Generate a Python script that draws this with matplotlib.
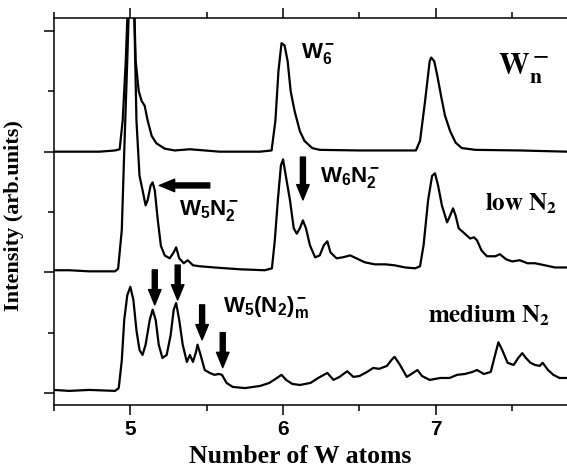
import matplotlib
matplotlib.use('Agg')
import matplotlib.pyplot as plt
import numpy as np

plt.rcParams['mathtext.fontset'] = 'custom'
plt.rcParams['mathtext.bf'] = 'Liberation Sans:bold'
plt.rcParams['mathtext.rm'] = 'Liberation Sans:bold'
plt.rcParams['mathtext.it'] = 'Liberation Sans:bold'

# W_n^- (no N2), intensity above its own baseline
x_top = [4.497, 4.80, 4.90, 4.93, 4.95, 4.97, 5.0, 5.015, 5.035, 5.055, 5.074,
         5.094, 5.113, 5.14, 5.17, 5.225, 5.29, 5.39, 5.585, 5.85, 5.925, 5.95,
         5.97, 5.99, 6.01, 6.03, 6.05, 6.075, 6.11, 6.14, 6.19, 6.24, 6.5, 6.77,
         6.87, 6.897, 6.93, 6.96, 6.97, 6.99, 7.01, 7.035, 7.06, 7.094, 7.13,
         7.17, 7.26, 7.55, 7.86]
i_top = [0.0, 0.0, 0.01, 0.02, 0.26, 0.75, 1.8, 1.7, 0.75, 0.5, 0.42,
         0.38, 0.26, 0.13, 0.07, 0.025, 0.01, 0.02, 0.0, 0.0, 0.01, 0.26,
         0.67, 0.90, 0.88, 0.75, 0.5, 0.34, 0.17, 0.09, 0.03, 0.015, 0.01, 0.01,
         0.01, 0.09, 0.42, 0.75, 0.78, 0.75, 0.63, 0.46, 0.30, 0.17, 0.075,
         0.03, 0.015, 0.01, 0.0]

# low N2
x_low = [4.497, 4.60, 4.73, 4.90, 4.92, 4.944, 4.96, 4.98, 5.0, 5.02, 5.04, 5.06,
         5.08, 5.10, 5.114, 5.133, 5.146, 5.16, 5.18, 5.2, 5.225, 5.258, 5.284,
         5.30, 5.32, 5.35, 5.376, 5.41, 5.454, 5.55, 5.717, 5.88, 5.927, 5.946,
         5.966, 5.986, 6.0, 6.018, 6.045, 6.07, 6.09, 6.11, 6.13, 6.15, 6.176,
         6.21, 6.24, 6.267, 6.29, 6.31, 6.35, 6.39, 6.44, 6.48, 6.535, 6.60,
         6.67, 6.73, 6.80, 6.865, 6.897, 6.92, 6.95, 6.976, 6.995, 7.015, 7.04,
         7.074, 7.094, 7.113, 7.13, 7.15, 7.19, 7.225, 7.25, 7.27, 7.30, 7.335,
         7.39, 7.42, 7.46, 7.5, 7.55, 7.6, 7.65, 7.715, 7.78, 7.86]
i_low = [0.017, 0.017, 0.008, 0.008, 0.03, 0.35, 1.0, 1.76, 2.6, 2.5, 1.26, 0.80,
         0.68, 0.555, 0.6, 0.72, 0.745, 0.68, 0.43, 0.22, 0.14, 0.116, 0.166,
         0.207, 0.116, 0.075, 0.10, 0.058, 0.05, 0.04, 0.025, 0.017, 0.033, 0.265,
         0.6, 0.886, 0.936, 0.80, 0.60, 0.365, 0.32, 0.365, 0.43, 0.365, 0.224,
         0.124, 0.14, 0.224, 0.257, 0.166, 0.116, 0.124, 0.14, 0.116, 0.083, 0.066,
         0.066, 0.058, 0.04, 0.033, 0.05, 0.224, 0.6, 0.80, 0.82, 0.72, 0.555,
         0.414, 0.47, 0.53, 0.47, 0.365, 0.32, 0.28, 0.29, 0.265, 0.18, 0.133,
         0.133, 0.15, 0.108, 0.09, 0.1, 0.075, 0.075, 0.058, 0.04, 0.04]

# medium N2
x_med = [4.497, 4.60, 4.73, 4.90, 4.924, 4.944, 4.96, 4.98, 5.0, 5.02, 5.04, 5.06,
         5.08, 5.10, 5.127, 5.146, 5.166, 5.186, 5.21, 5.238, 5.264, 5.284, 5.30,
         5.32, 5.343, 5.37, 5.39, 5.41, 5.43, 5.44, 5.46, 5.487, 5.52, 5.55, 5.58,
         5.60, 5.63, 5.67, 5.75, 5.85, 5.91, 5.96, 5.99, 6.02, 6.06, 6.11, 6.18,
         6.23, 6.29, 6.33, 6.37, 6.42, 6.46, 6.50, 6.55, 6.59, 6.63, 6.68, 6.71,
         6.73, 6.766, 6.81, 6.84, 6.88, 6.91, 6.96, 7.03, 7.09, 7.14, 7.19, 7.24,
         7.27, 7.315, 7.36, 7.38, 7.41, 7.435, 7.47, 7.51, 7.54, 7.566, 7.59, 7.62,
         7.65, 7.68, 7.70, 7.735, 7.77, 7.81, 7.86]
i_med = [0.025, 0.017, 0.025, 0.017, 0.04, 0.27, 0.605, 0.81, 0.88, 0.77, 0.52, 0.356,
         0.315, 0.40, 0.605, 0.69, 0.605, 0.40, 0.29, 0.315, 0.48, 0.69, 0.746,
         0.605, 0.40, 0.257, 0.315, 0.257, 0.34, 0.40, 0.315, 0.19, 0.166, 0.15, 0.157,
         0.15, 0.083, 0.05, 0.04, 0.058, 0.083, 0.124, 0.15, 0.108, 0.075, 0.066, 0.083,
         0.124, 0.166, 0.108, 0.133, 0.18, 0.133, 0.14, 0.174, 0.207, 0.2, 0.224, 0.273,
         0.30, 0.232, 0.133, 0.157, 0.19, 0.14, 0.108, 0.124, 0.124, 0.15, 0.157, 0.174,
         0.19, 0.157, 0.174, 0.273, 0.42, 0.356, 0.25, 0.232, 0.29, 0.33, 0.29, 0.25,
         0.232, 0.224, 0.25, 0.19, 0.15, 0.124, 0.124]

offsets = [2, 1, 0]

fig = plt.figure(figsize=(5.67, 4.70), dpi=100)
ax = fig.add_axes([0.0952, 0.1383, 0.905, 0.8234])

for xs, ys, off in zip([x_top, x_low, x_med], [i_top, i_low, i_med], offsets):
    ax.plot(xs, np.array(ys) + off, color='black', lw=1.6)

ax.set_xlim(4.5, 7.86)
ax.set_ylim(-0.1, 3.108)
ax.set_xticks([5, 6, 7])
ax.set_xticks([4.5, 5.5, 6.5, 7.5], minor=True)
ax.set_yticks([0, 1, 2, 3])
ax.set_yticks([0.5, 1.5, 2.5], minor=True)
ax.set_yticklabels([])
ax.tick_params(which='both', direction='out', width=1.1, top=True, right=False)
ax.tick_params(which='major', length=7)
ax.tick_params(which='minor', length=4)
ax.spines['right'].set_visible(False)
for s in ['left', 'bottom', 'top']:
    ax.spines[s].set_linewidth(1.1)
for lab in ax.get_xticklabels():
    lab.set_fontfamily('Liberation Sans')
    lab.set_fontweight('bold')
    lab.set_fontsize(15)

ax.set_xlabel('Number of W atoms', family='Liberation Serif', weight='bold',
              fontsize=18.5)
ax.xaxis.set_label_coords(0.48, -0.103)
ax.set_ylabel('Intensity (arb.units)', family='Liberation Serif', weight='bold',
              fontsize=16)
ax.yaxis.set_label_coords(-0.058, 0.49)

# labels
ax.text(6.12, 2.78, r'$\mathbf{W_6^-}$', fontsize=16, ha='left', va='baseline')
ax.text(7.41, 2.643, r'$\mathbf{W_n^-}$', fontsize=22, ha='left', va='baseline',
        math_fontfamily='stix')
ax.text(5.32, 1.475, r'$\mathbf{W_5N_2^-}$', fontsize=16, ha='left', va='baseline')
ax.text(6.24, 1.748, r'$\mathbf{W_6N_2^-}$', fontsize=16, ha='left', va='baseline')
ax.text(5.605, 0.671, r'$\mathbf{W_5(N_2)_m^-}$', fontsize=16, ha='left', va='baseline')
ax.text(7.325, 1.516, r'$\mathbf{low\ N_2}$', fontsize=18, ha='left', va='baseline',
        math_fontfamily='stix')
ax.text(6.95, 0.588, r'$\mathbf{medium\ N_2}$', fontsize=18, ha='left', va='baseline',
        math_fontfamily='stix')

arrow = dict(arrowstyle='simple,head_width=0.45,head_length=0.55,tail_width=0.18',
             color='black', shrinkA=0, shrinkB=0, mutation_scale=20)
ax.annotate('', xy=(5.19, 1.72), xytext=(5.52, 1.72), arrowprops=arrow)
ax.annotate('', xy=(6.13, 1.60), xytext=(6.13, 1.955), arrowprops=arrow)
ax.annotate('', xy=(5.16, 0.73), xytext=(5.16, 1.02), arrowprops=arrow)
ax.annotate('', xy=(5.31, 0.77), xytext=(5.31, 1.06), arrowprops=arrow)
ax.annotate('', xy=(5.47, 0.44), xytext=(5.47, 0.73), arrowprops=arrow)
ax.annotate('', xy=(5.605, 0.21), xytext=(5.605, 0.50), arrowprops=arrow)

fig.savefig('out.png', dpi=100)
